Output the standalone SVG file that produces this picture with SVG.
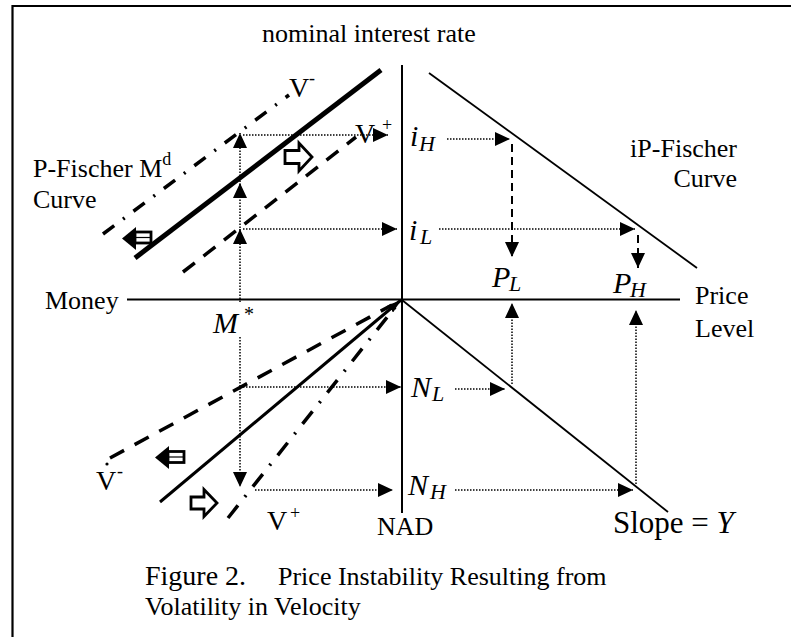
<svg xmlns="http://www.w3.org/2000/svg" width="791" height="637" viewBox="0 0 791 637">
<style>
text{font-family:"Liberation Serif","Times New Roman",serif;fill:#000}
.lbl{font-size:26px}
.vv{font-size:28px}
.var{font-size:30px;font-style:italic}
.sub{font-size:22px;font-style:italic}
.sup{font-size:18px}
.dot{stroke:#000;stroke-width:1.5;stroke-dasharray:1.5 1.5;fill:none}
.dsh{stroke:#000;stroke-width:2;stroke-dasharray:8 5;fill:none}
.ax{stroke:#000;stroke-width:2;fill:none}
.hol{fill:#fff;stroke:#000;stroke-width:2.8}
</style>
<defs>
<marker id="ah" viewBox="0 0 15 14" markerWidth="15" markerHeight="14" markerUnits="userSpaceOnUse" refX="15" refY="7" orient="auto"><path d="M0,0 L15,7 L0,14 z" fill="#000"/></marker>
<marker id="ahs" viewBox="0 0 14 9" markerWidth="14" markerHeight="9" markerUnits="userSpaceOnUse" refX="14" refY="4.5" orient="auto"><path d="M0,0 L14,4.5 L0,9 z" fill="#000"/></marker>
</defs>
<rect width="791" height="637" fill="#fff"/>
<path d="M12.5,637 V6 H791" stroke="#000" stroke-width="2.2" fill="none"/>

<g id="axes">
<line class="ax" x1="402" y1="65" x2="402" y2="513"/>
<line class="ax" x1="127" y1="299.5" x2="680" y2="299.5" stroke-width="1.6"/>
</g>

<g id="curves">
<line x1="135" y1="258" x2="381" y2="70" stroke="#000" stroke-width="5"/>
<line x1="103" y1="234" x2="289" y2="95" stroke="#000" stroke-width="3.5" stroke-dasharray="14 11 2 11"/>
<line x1="183" y1="272" x2="356" y2="137" stroke="#000" stroke-width="3.5" stroke-dasharray="15 11"/>
<line x1="429" y1="73" x2="697" y2="268" stroke="#000" stroke-width="1.8"/>
<line x1="402" y1="300" x2="668" y2="512" stroke="#000" stroke-width="1.8"/>
<line x1="160" y1="502" x2="401" y2="300" stroke="#000" stroke-width="3" marker-end="url(#ahs)"/>
<line x1="110" y1="458" x2="392" y2="305" stroke="#000" stroke-width="3.5" stroke-dasharray="16 12"/>
<circle cx="107" cy="464" r="1.6" fill="#000"/>
<line x1="228" y1="518" x2="396" y2="306" stroke="#000" stroke-width="3.5" stroke-dasharray="16 11 2 11"/>
</g>

<g id="connectors">
<line class="dot" x1="240" y1="302" x2="240" y2="229" marker-end="url(#ah)"/>
<line class="dot" x1="240" y1="243" x2="240" y2="183" marker-end="url(#ah)"/>
<line class="dot" x1="240" y1="197" x2="240" y2="133" marker-end="url(#ah)"/>
<line class="dot" x1="243" y1="135" x2="388" y2="135" marker-end="url(#ah)"/>
<line class="dot" x1="243" y1="229" x2="397" y2="229" marker-end="url(#ah)"/>
<line class="dot" x1="447" y1="139" x2="510" y2="139" marker-end="url(#ah)"/>
<line class="dsh" x1="512" y1="144" x2="512" y2="257" marker-end="url(#ah)"/>
<line class="dot" x1="439" y1="229" x2="635" y2="229" marker-end="url(#ah)"/>
<line class="dsh" x1="638" y1="235" x2="638" y2="268" marker-end="url(#ah)"/>
<line class="dot" x1="240" y1="337" x2="240" y2="487" marker-end="url(#ah)"/>
<line class="dot" x1="243" y1="387" x2="401" y2="387" marker-end="url(#ah)"/>
<line class="dot" x1="255" y1="490" x2="393" y2="490" marker-end="url(#ah)"/>
<line class="dot" x1="455" y1="389" x2="505" y2="389" marker-end="url(#ah)"/>
<line class="dot" x1="512" y1="384" x2="512" y2="303" marker-end="url(#ah)"/>
<line class="dot" x1="455" y1="490" x2="633" y2="490" marker-end="url(#ah)"/>
<line class="dot" x1="636" y1="484" x2="636" y2="310" marker-end="url(#ah)"/>
</g>

<g id="shift-arrows">
<polygon class="hol" points="285,150.5 299,150.5 299,143 312,157 299,171 299,163.5 285,163.5"/>
<polygon class="hol" points="191,497 204,497 204,489.5 217,503 204,516.5 204,509 191,509"/>
<g id="left-arrow-upper">
<polygon points="122,238.5 136,227 136,250" fill="#000"/>
<rect x="135" y="232" width="16" height="11" fill="#fff" stroke="#000" stroke-width="2.8"/>
<line x1="136" y1="237.5" x2="150" y2="237.5" stroke="#000" stroke-width="1.2"/>
</g>
<g id="left-arrow-lower">
<polygon points="155,457.5 169,446 169,469" fill="#000"/>
<rect x="168" y="451.5" width="16" height="11" fill="#fff" stroke="#000" stroke-width="2.8"/>
<line x1="169" y1="457" x2="183" y2="457" stroke="#000" stroke-width="1.2"/>
</g>
</g>

<g id="label-nominal"><text class="lbl" x="262" y="42">nominal interest rate</text></g>
<g id="label-money"><text class="lbl" x="45" y="309">Money</text></g>
<g id="label-pfischer"><text class="lbl" x="33" y="177">P-Fischer M<tspan class="sup" dy="-12">d</tspan></text><text class="lbl" x="33" y="208">Curve</text></g>
<g id="label-vminus-up"><text class="vv" x="289" y="97">V</text><text class="sup" x="309" y="84">-</text></g>
<g id="label-vplus-up"><text class="vv" x="355" y="143">V</text><text class="sup" x="382" y="131">+</text></g>
<g id="label-iH"><text class="var" x="410" y="146">i</text><text class="sub" x="419" y="151">H</text></g>
<g id="label-iL"><text class="var" x="409" y="240">i</text><text class="sub" x="420" y="244">L</text></g>
<g id="label-PL"><text class="var" x="492" y="287">P</text><text class="sub" x="509" y="291">L</text></g>
<g id="label-PH"><text class="var" x="613" y="293">P</text><text class="sub" x="630" y="297">H</text></g>
<g id="label-ipfischer"><text class="lbl" x="737" y="157" text-anchor="end">iP-Fischer</text><text class="lbl" x="737" y="187" text-anchor="end">Curve</text></g>
<g id="label-price"><text class="lbl" x="695" y="304">Price</text><text class="lbl" x="695" y="337">Level</text></g>
<g id="label-mstar"><text class="var" x="213" y="333">M</text><text style="font-size:20px" x="244" y="321">*</text></g>
<g id="label-NL"><text class="var" x="411" y="397">N</text><text class="sub" x="432" y="401">L</text></g>
<g id="label-NH"><text class="var" x="408" y="495">N</text><text class="sub" x="430" y="499">H</text></g>
<g id="label-vminus-low"><text class="vv" x="96" y="490">V</text><text class="sup" x="117" y="477">-</text></g>
<g id="label-vplus-low"><text class="vv" x="267" y="530">V</text><text class="sup" x="290" y="519">+</text></g>
<g id="label-nad"><text class="lbl" x="377" y="535">NAD</text></g>
<g id="label-slope"><text style="font-size:31px" x="613" y="533">Slope = <tspan font-style="italic">Y</tspan></text></g>
<g id="caption">
<text x="145" y="585"><tspan style="font-size:28px">Figure 2.</tspan><tspan style="font-size:26px" x="278">Price Instability Resulting from</tspan></text>
<text style="font-size:26px" x="145" y="615">Volatility in Velocity</text>
</g>
</svg>
